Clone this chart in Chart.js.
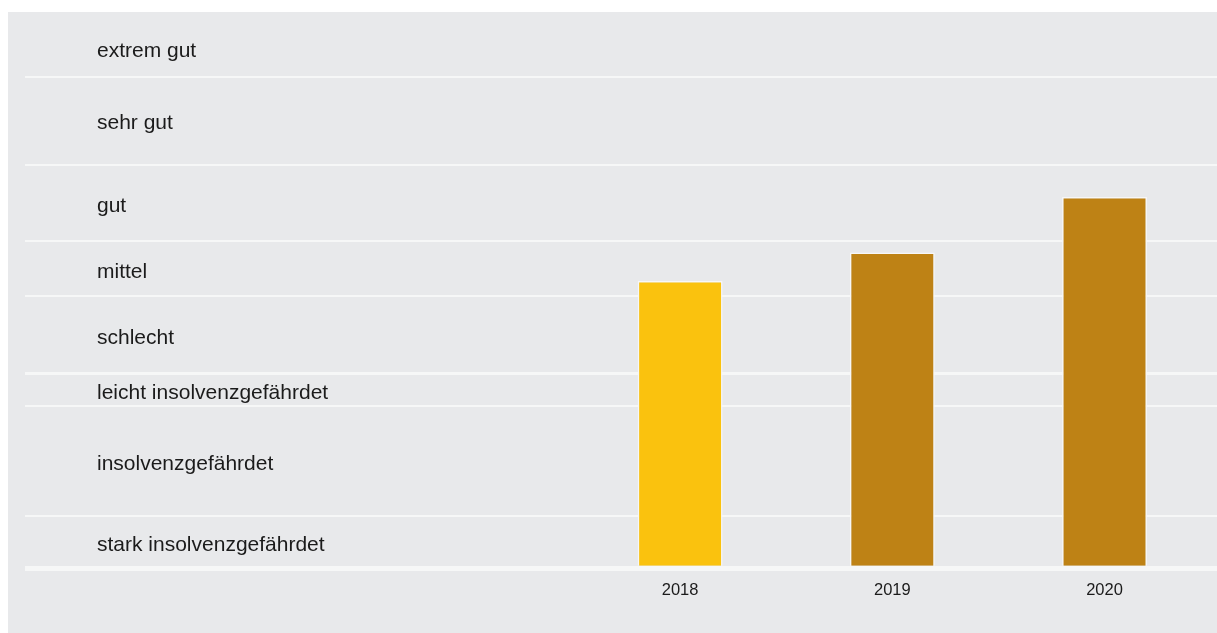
<!DOCTYPE html>
<html lang="de">
<head>
<meta charset="utf-8">
<title>Bonität 2018–2020</title>
<script src="https://cdn.jsdelivr.net/npm/chart.js@4/dist/chart.umd.min.js"></script>
<style>
    html, body { margin: 0; padding: 0; background: #ffffff; overflow: hidden; }
    #panel {
        position: absolute;
        left: 8px;
        top: 12px;
        width: 1209px;
        height: 621px;
        background: #e8e9eb;
    }
</style>
</head>
<body>
<div id="panel">
    <canvas id="rating"></canvas>
</div>
<script>
// years and rating index per year
var years = ['2018', '2019', '2020'];
var scores = [52.3, 57.5, 67.6];
var barColors = ['#fac20e', '#be8215', '#be8215'];

// rating bands, bottom to top; bandEdges holds the limits between them
var bandNames = [
    'stark insolvenzgefährdet',
    'insolvenzgefährdet',
    'leicht insolvenzgefährdet',
    'schlecht',
    'mittel',
    'gut',
    'sehr gut',
    'extrem gut'
];
var bandEdges = [0, 9.5, 29.5, 35.5, 49.5, 59.5, 73.5, 89.5, 100];

// label sits in the middle of its band
var bandMids = [];
for (var i = 0; i < bandNames.length; i++) {
    bandMids.push((bandEdges[i] + bandEdges[i + 1]) / 2);
}

function isEdge(v) {
    return bandEdges.indexOf(v) !== -1;
}

var lineColor = '#f6f7f7';
var textColor = '#1b1b1b';
var topEdge = bandEdges[bandEdges.length - 1];

var ctx = document.getElementById('rating');
var chart = new Chart(ctx, {
    type: 'bar',
    data: {
        labels: years,
        datasets: [{
            data: scores,
            backgroundColor: barColors,
            borderColor: '#f7f7f7',
            borderWidth: 1.5,
            categoryPercentage: 1,
            barPercentage: 0.4
        }]
    },
    options: {
        responsive: true,
        maintainAspectRatio: false,
        animation: false,
        layout: {
            padding: { left: 89, top: 7, right: 0, bottom: 21 }
        },
        plugins: {
            legend: { display: false },
            tooltip: { enabled: false }
        },
        scales: {
            x: {
                type: 'linear',
                offset: false,
                min: 2017.5,
                max: 2020.53,
                afterBuildTicks: function(scale) {
                    scale.ticks = years.map(function(y) { return { value: +y }; });
                },
                grid: { display: false, drawTicks: false, offset: false },
                border: { display: false },
                ticks: {
                    padding: 12,
                    color: textColor,
                    font: { family: '"Liberation Sans", Arial, sans-serif', size: 16.5 },
                    callback: function(value) { return String(value); }
                }
            },
            y: {
                min: 0,
                max: 100,
                afterBuildTicks: function(scale) {
                    var vals = bandEdges.concat(bandMids).sort(function(a, b) { return a - b; });
                    scale.ticks = vals.map(function(v) { return { value: v }; });
                },
                afterFit: function(scale) {
                    scale.width = 477;
                },
                border: { display: false },
                grid: {
                    color: function(c) {
                        if (!c.tick || !isEdge(c.tick.value) || c.tick.value === topEdge) return 'rgba(0,0,0,0)';
                        return lineColor;
                    },
                    lineWidth: function(c) {
                        if (!c.tick) return 2;
                        if (c.tick.value === bandEdges[0]) return 5;
                        if (c.tick.value === bandEdges[3]) return 3;
                        return 2;
                    },
                    tickLength: 549
                },
                ticks: {
                    autoSkip: false,
                    crossAlign: 'far',
                    padding: 0,
                    labelOffset: 3,
                    color: textColor,
                    font: function(c) {
                        var small = c.tick && isEdge(c.tick.value);
                        return { family: '"Liberation Sans", Arial, sans-serif', size: small ? 1 : 21 };
                    },
                    callback: function(value) {
                        var k = bandMids.indexOf(value);
                        return k === -1 ? '' : bandNames[k];
                    }
                }
            }
        }
    }
});
</script>
</body>
</html>
